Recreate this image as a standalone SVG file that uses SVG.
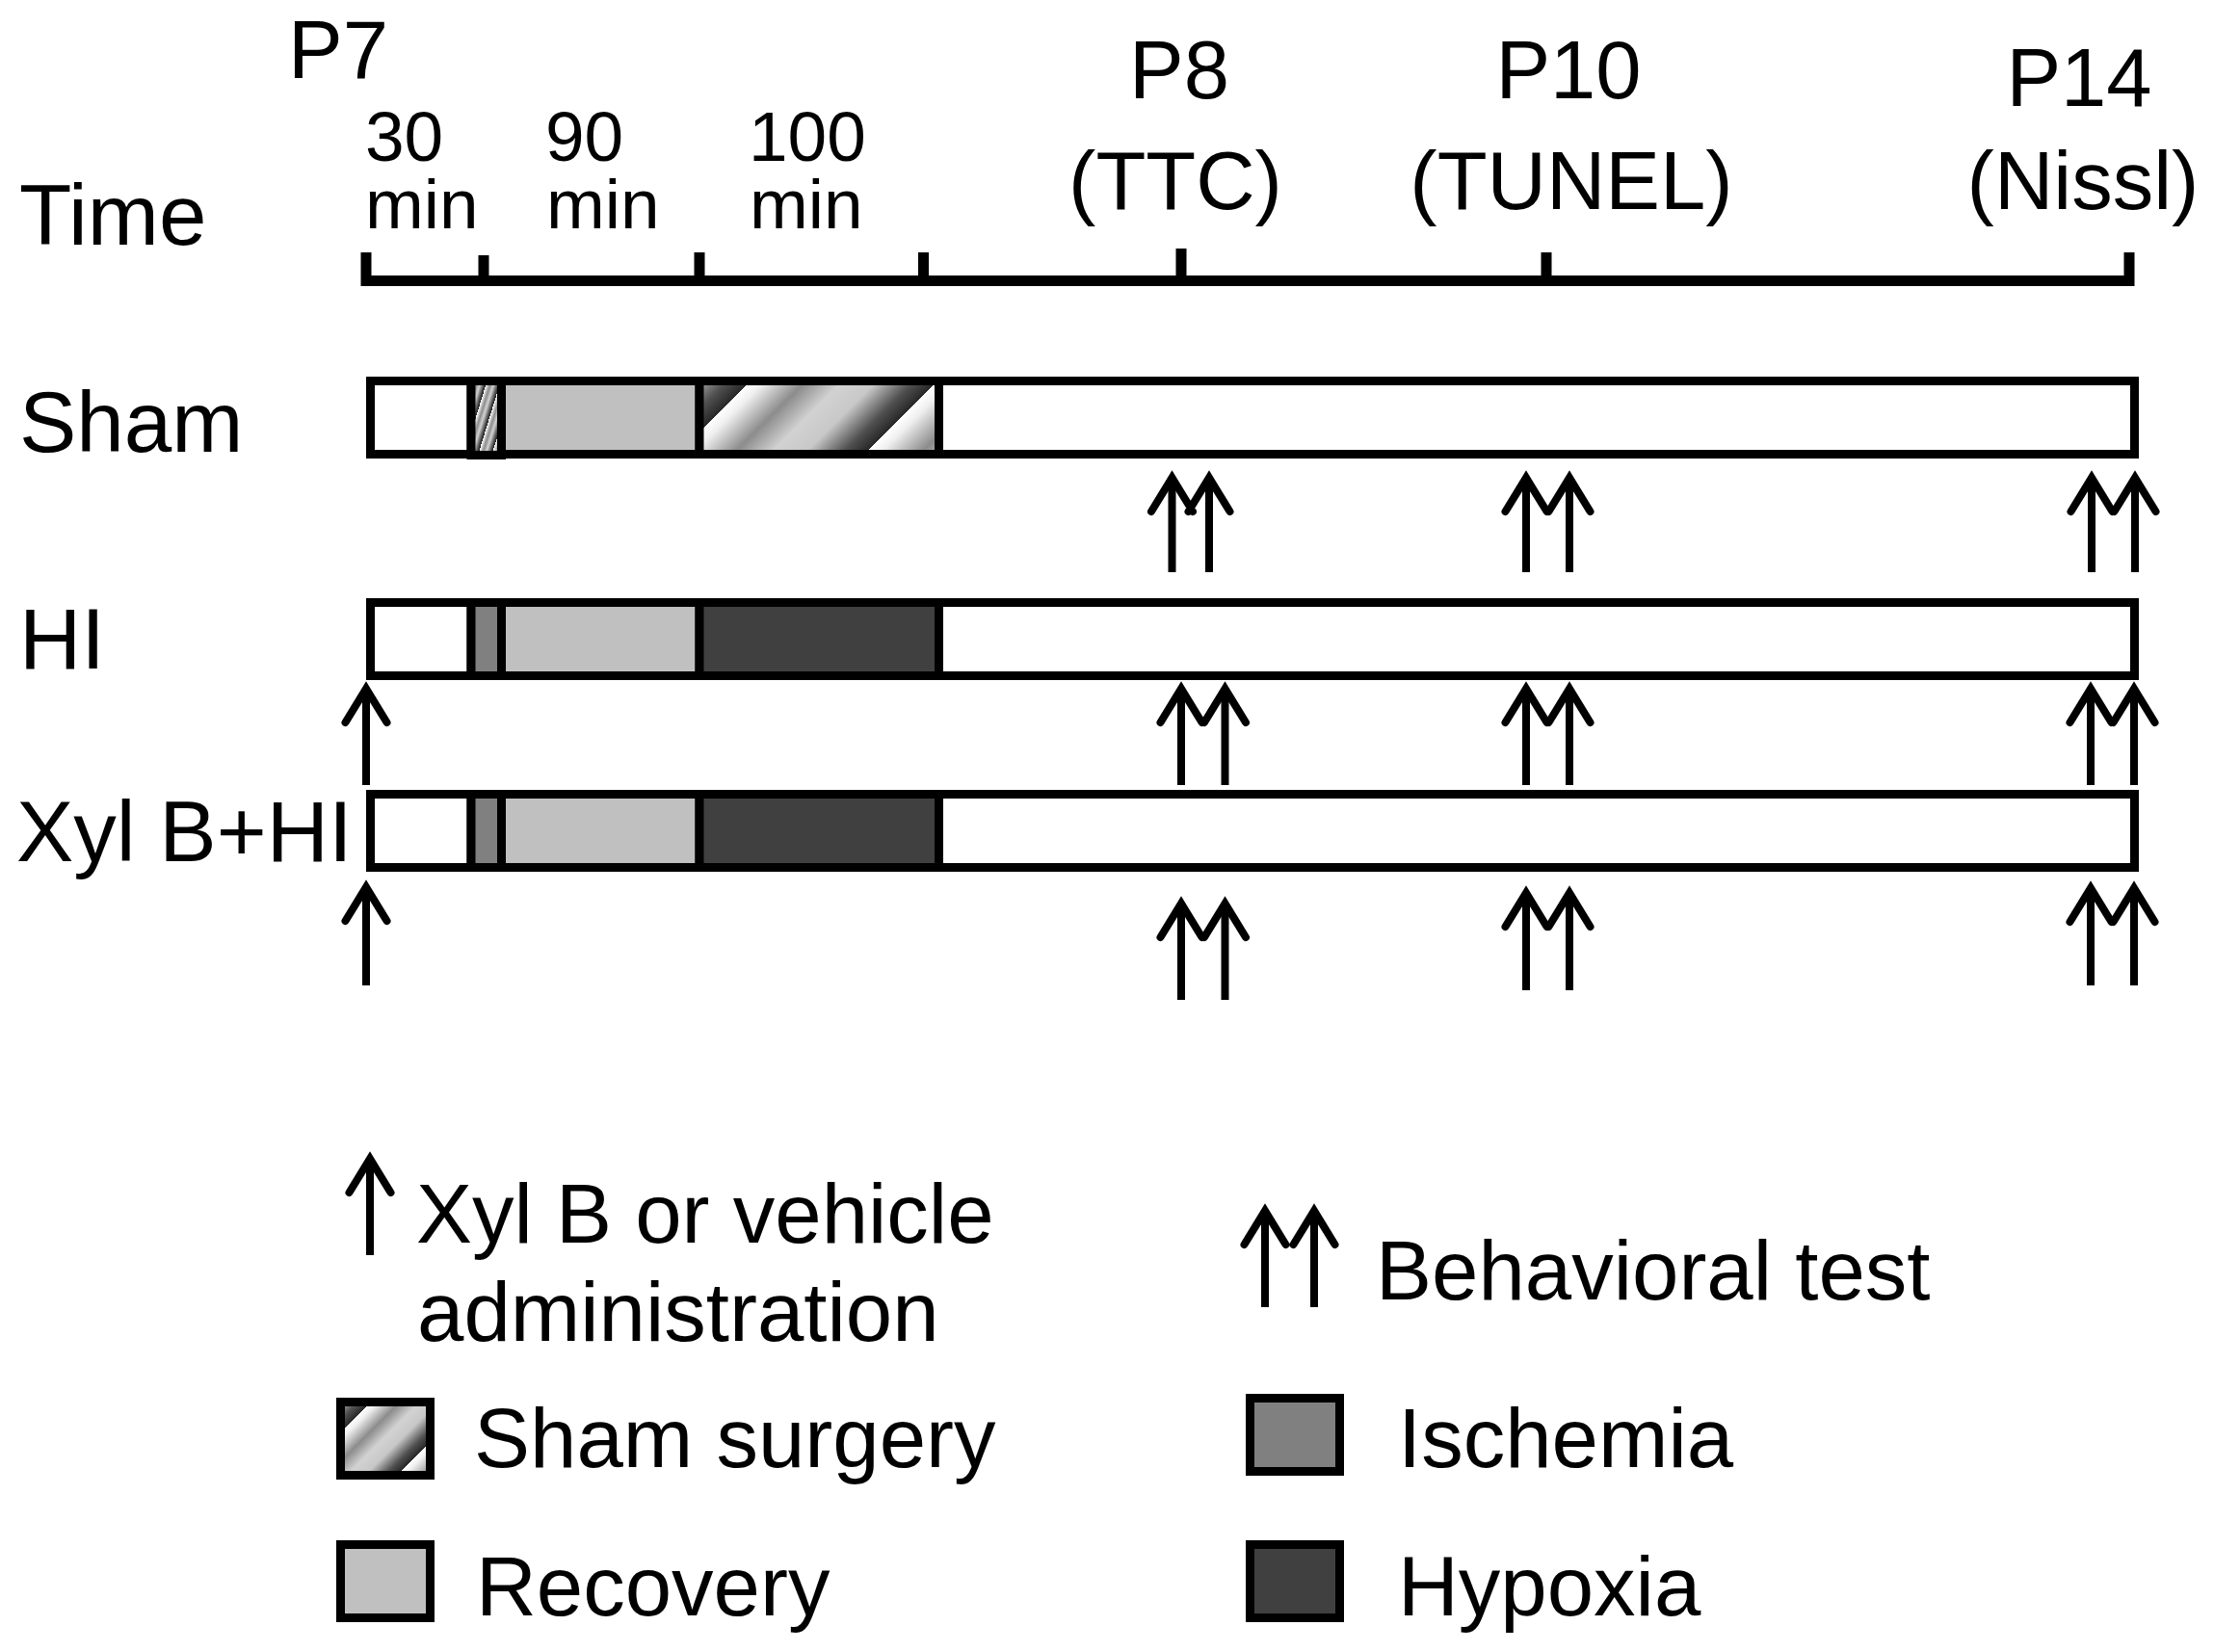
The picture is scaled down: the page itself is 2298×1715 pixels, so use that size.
<svg xmlns="http://www.w3.org/2000/svg" width="2298" height="1715" viewBox="0 0 2298 1715">
<defs>
<style>
text{font-family:"Liberation Sans",Arial,sans-serif;fill:#000}
.big{font-size:85px}
.lab{font-size:89px}
.leg{font-size:87px}
.sm{font-size:73px}
.mid{text-anchor:middle}
.seg{stroke:#000;stroke-width:9}
.white{fill:#fff}
.rec{fill:#c0c0c0}
.isc{fill:#808080}
.hyp{fill:#404040}
.axis{stroke:#000;stroke-width:11;fill:none}
.shaft{stroke:#000;stroke-width:8;fill:none;stroke-linecap:butt}
.head{stroke:#000;stroke-width:8;fill:none;stroke-linecap:round;stroke-linejoin:miter;stroke-miterlimit:10}
</style>
<linearGradient id="hatchBar" gradientUnits="userSpaceOnUse" x1="587" y1="587" x2="684" y2="684" spreadMethod="repeat">
<stop offset="0" stop-color="#ffffff"/>
<stop offset="0.08" stop-color="#f0f0f0"/>
<stop offset="0.3" stop-color="#8c8c8c"/>
<stop offset="0.5" stop-color="#d2d2d2"/>
<stop offset="0.68" stop-color="#c8c8c8"/>
<stop offset="0.88" stop-color="#505050"/>
<stop offset="1" stop-color="#282828"/>
</linearGradient>
<linearGradient id="hatchLeg" gradientUnits="userSpaceOnUse" x1="920" y1="920" x2="971.5" y2="971.5" spreadMethod="repeat">
<stop offset="0" stop-color="#ffffff"/>
<stop offset="0.08" stop-color="#f0f0f0"/>
<stop offset="0.3" stop-color="#8c8c8c"/>
<stop offset="0.5" stop-color="#d2d2d2"/>
<stop offset="0.68" stop-color="#c8c8c8"/>
<stop offset="0.88" stop-color="#505050"/>
<stop offset="1" stop-color="#282828"/>
</linearGradient>
<linearGradient id="hatchSmall" gradientUnits="userSpaceOnUse" x1="494" y1="433" x2="507" y2="437" spreadMethod="repeat">
<stop offset="0" stop-color="#ffffff"/>
<stop offset="0.3" stop-color="#8c8c8c"/>
<stop offset="0.55" stop-color="#d2d2d2"/>
<stop offset="0.85" stop-color="#505050"/>
<stop offset="1" stop-color="#202020"/>
</linearGradient>
</defs>
<rect width="2298" height="1715" fill="#fff"/>

<g id="time-axis">
<text class="lab" x="20" y="254">Time</text>
<text class="big" x="299" y="81">P7</text>
<text class="sm" x="379" y="167">30</text>
<text class="sm" x="379" y="237">min</text>
<text class="sm" x="566" y="167">90</text>
<text class="sm" x="567" y="237">min</text>
<text class="sm" x="777" y="167">100</text>
<text class="sm" x="778" y="237">min</text>
<text class="big mid" x="1224" y="102">P8</text>
<text class="big mid" x="1220" y="217">(TTC)</text>
<text class="big mid" x="1628" y="102">P10</text>
<text class="big mid" x="1631" y="217">(TUNEL)</text>
<text class="big mid" x="2158" y="110">P14</text>
<text class="big mid" x="2162" y="217">(Nissl)</text>
<path class="axis" d="M380,291.5 H2215.5 M380,262 V297 M502,265 V291 M726,262 V291 M958.5,262 V291 M1226,258 V291 M1605,262 V291 M2210,262 V297"/>
</g>

<g id="sham">
<text class="lab" x="20" y="469">Sham</text>
<rect class="seg white" x="384.5" y="395.5" width="104.5" height="76"/>
<rect class="seg rec" x="520.5" y="395.5" width="205.5" height="76"/>
<rect class="seg" fill="url(#hatchBar)" x="726" y="395.5" width="248.5" height="76"/>
<rect class="seg white" x="974.5" y="395.5" width="1241" height="76"/>
<rect class="seg" fill="url(#hatchSmall)" x="489" y="395.5" width="31.5" height="77"/>
</g>

<g id="hi">
<text class="lab" x="20" y="694">HI</text>
<rect class="seg white" x="384.5" y="625.5" width="104.5" height="76"/>
<rect class="seg rec" x="520.5" y="625.5" width="205.5" height="76"/>
<rect class="seg hyp" x="726" y="625.5" width="248.5" height="76"/>
<rect class="seg white" x="974.5" y="625.5" width="1241" height="76"/>
<rect class="seg isc" x="489" y="625.5" width="31.5" height="76"/>
</g>

<g id="xylb-hi">
<text class="lab" x="17" y="894">Xyl B+HI</text>
<rect class="seg white" x="384.5" y="824.5" width="104.5" height="76"/>
<rect class="seg rec" x="520.5" y="824.5" width="205.5" height="76"/>
<rect class="seg hyp" x="726" y="824.5" width="248.5" height="76"/>
<rect class="seg white" x="974.5" y="824.5" width="1241" height="76"/>
<rect class="seg isc" x="489" y="824.5" width="31.5" height="76"/>
</g>

<g id="connectors">
<path class="shaft" d="M1216.5,594 V495 M1255,594 V495 M1584,594 V495 M1629,594 V495 M2171,594 V495 M2216,594 V495"/>
<path class="head" d="M1195,531 L1216.5,496 L1238,531 M1233.5,531 L1255,496 L1276.5,531 M1562.5,531 L1584,496 L1605.5,531 M1607.5,531 L1629,496 L1650.5,531 M2149.5,531 L2171,496 L2192.5,531 M2194.5,531 L2216,496 L2237.5,531"/>
<path class="shaft" d="M380,815 V714 M1226,815 V714 M1271.5,815 V714 M1584,815 V714 M1629,815 V714 M2170,815 V714 M2215,815 V714"/>
<path class="head" d="M358.5,750 L380,715 L401.5,750 M1204.5,750 L1226,715 L1247.5,750 M1250,750 L1271.5,715 L1293,750 M1562.5,750 L1584,715 L1605.5,750 M1607.5,750 L1629,715 L1650.5,750 M2148.5,750 L2170,715 L2191.5,750 M2193.5,750 L2215,715 L2236.5,750"/>
<path class="shaft" d="M380,1023 V921 M1226,1038 V938 M1271.5,1038 V938 M1584,1028 V927 M1629,1028 V927 M2170,1023 V922 M2215,1023 V922"/>
<path class="head" d="M358.5,956 L380,921 L401.5,956 M1204.5,973 L1226,938 L1247.5,973 M1250,973 L1271.5,938 L1293,973 M1562.5,962 L1584,927 L1605.5,962 M1607.5,962 L1629,927 L1650.5,962 M2148.5,957 L2170,922 L2191.5,957 M2193.5,957 L2215,922 L2236.5,957"/>
</g>

<g id="legend-admin">
<path class="shaft" d="M384,1303 V1203"/>
<path class="head" d="M362.5,1238 L384,1203 L405.5,1238"/>
<text class="leg" x="432" y="1290">Xyl B or vehicle</text>
<text class="leg" x="433" y="1392">administration</text>
</g>
<g id="legend-behavior">
<path class="shaft" d="M1313,1357 V1257 M1364,1357 V1257"/>
<path class="head" d="M1291.5,1292 L1313,1257 L1334.5,1292 M1342.5,1292 L1364,1257 L1385.5,1292"/>
<text class="leg" x="1428" y="1349">Behavioral test</text>
</g>
<g id="legend-sham">
<rect class="seg" fill="url(#hatchLeg)" x="353.5" y="1455.5" width="93" height="76"/>
<text class="leg" x="492" y="1523">Sham surgery</text>
</g>
<g id="legend-recovery">
<rect class="seg rec" x="353.5" y="1603.5" width="93" height="76"/>
<text class="leg" x="494" y="1677">Recovery</text>
</g>
<g id="legend-ischemia">
<rect class="seg isc" x="1297.5" y="1451.5" width="93" height="76"/>
<text class="leg" x="1451" y="1523">Ischemia</text>
</g>
<g id="legend-hypoxia">
<rect class="seg hyp" x="1297.5" y="1603.5" width="93" height="76"/>
<text class="leg" x="1451" y="1677">Hypoxia</text>
</g>
</svg>
